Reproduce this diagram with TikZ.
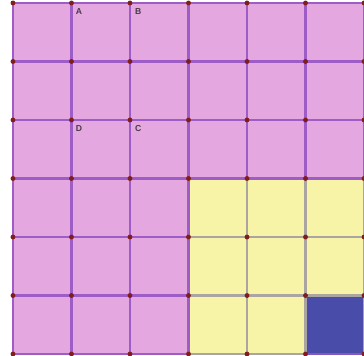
\documentclass[tikz,border=0pt]{standalone}
\usepackage{fontspec}
\setsansfont{Liberation Sans}
\definecolor{pinkfill}{RGB}{228,167,224}
\definecolor{yellowfill}{RGB}{247,244,168}
\definecolor{bluefill}{RGB}{74,76,170}
\definecolor{gridpurple}{RGB}{158,92,198}
\definecolor{gridgrey}{RGB}{170,165,160}
\definecolor{dotred}{RGB}{128,30,30}
\definecolor{labelgrey}{RGB}{70,60,70}
\tikzset{
  purpleline/.style={draw=gridpurple,line width=1.15pt},
  greyline/.style={draw=gridgrey,line width=1.1pt},
  gridpt/.style={fill=dotred,draw=none},
  ptlabel/.style={font=\sffamily\bfseries\fontsize{4.2}{5}\selectfont,text=labelgrey,inner sep=0pt}
}
\begin{document}
\begin{tikzpicture}[x=1cm,y=1cm]
\useasboundingbox (-0.222,-0.017) rectangle (6,6.051);
\clip (-0.222,-0.017) rectangle (6,6.051);
% fills
\fill[pinkfill] (0,0) rectangle (6,6);
\fill[yellowfill] (3,0) rectangle (6,3);
\fill[bluefill] (5,0) rectangle (6,1);
% purple grid lines
\foreach \i in {0,...,6} {
  \draw[purpleline] (\i,3) -- (\i,6);
  \draw[purpleline] (0,\i) -- (6,\i);
}
\foreach \i in {0,1,2,3} {
  \draw[purpleline] (\i,0) -- (\i,3);
}
% grey lines inside the yellow region
\foreach \i in {4,5,6} {
  \draw[greyline] (\i,0) -- (\i,3);
}
\foreach \j in {0,1,2} {
  \draw[greyline] (3,\j) -- (6,\j);
}
\draw[draw=gridpurple!70!bluefill,line width=1.1pt] (5,0) -- (6,0);
% grid points
\foreach \i in {0,...,6} {
  \foreach \j in {0,...,6} {
    \fill[gridpt] (\i,\j) circle (0.042);
  }
}
% labels
\node[ptlabel] (A) at (1.13,5.85) {A};
\node[ptlabel] (B) at (2.14,5.85) {B};
\node[ptlabel] (D) at (1.13,3.85) {D};
\node[ptlabel] (C) at (2.14,3.85) {C};
\end{tikzpicture}
\end{document}
